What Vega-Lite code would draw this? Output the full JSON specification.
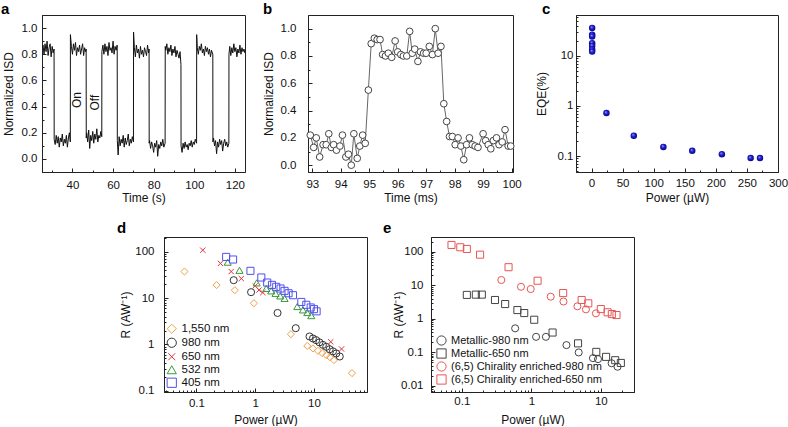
{
  "$schema": "https://vega.github.io/schema/vega-lite/v6.json",
  "background": "white",
  "padding": {"left": 0, "top": 1, "right": 0, "bottom": 0},
  "spacing": 16,
  "resolve": {"scale": {"color": "independent", "shape": "independent"}, "legend": {"color": "independent", "shape": "independent"}},
  "config": {
    "font": "Liberation Sans",
    "view": {"stroke": "#222", "strokeWidth": 1},
    "axis": {"grid": false, "domainColor": "#222", "tickColor": "#222", "labelColor": "#111", "titleColor": "#111", "labelFontSize": 11.5, "titleFontSize": 12, "titleFontWeight": "normal", "tickSize": -4, "labelPadding": 3, "titlePadding": 3, "labelFlush": false, "labelOverlap": false},
    "title": {"fontSize": 15, "fontWeight": "bold", "anchor": "start", "frame": "group", "offset": 0, "color": "#000"},
    "legend": {"title": null, "orient": "bottom-left", "offset": 4, "padding": 0, "labelFontSize": 11.5, "labelColor": "#111", "symbolSize": 85, "symbolStrokeWidth": 1, "rowPadding": 0, "labelOffset": 4}
  },
  "vconcat": [
    {
      "bounds": "flush",
      "spacing": 63,
      "resolve": {"scale": {"color": "independent", "shape": "independent"}},
      "hconcat": [
            {
              "width": 203, "height": 157,
              "title": {"text": "a", "dx": -41, "dy": 6},
              "resolve": {"axis": {"x": "independent", "y": "independent"}},
              "layer": [
                {
                  "data": {"values": [
{"t":25.3,"v":0.85},{"t":25.5,"v":0.87},{"t":26,"v":0.80},{"t":26.5,"v":0.88},{"t":27,"v":0.82},{"t":27.5,"v":0.90},{"t":28,"v":0.79},{"t":28.5,"v":0.85},{"t":29,"v":0.88},{"t":29.5,"v":0.78},{"t":30,"v":0.86},{"t":30.5,"v":0.81},{"t":30.95,"v":0.84},
{"t":31.0,"v":0.15},{"t":31.5,"v":0.11},{"t":32,"v":0.18},{"t":32.5,"v":0.12},{"t":33,"v":0.17},{"t":33.5,"v":0.09},{"t":34,"v":0.16},{"t":34.5,"v":0.13},{"t":35,"v":0.19},{"t":35.5,"v":0.10},{"t":36,"v":0.15},{"t":36.5,"v":0.12},{"t":37,"v":0.18},{"t":37.5,"v":0.09},{"t":38,"v":0.16},{"t":38.5,"v":0.20},{"t":38.95,"v":0.13},
{"t":39.0,"v":0.95},{"t":39.5,"v":0.86},{"t":40,"v":0.80},{"t":40.5,"v":0.88},{"t":41,"v":0.83},{"t":41.5,"v":0.89},{"t":42,"v":0.79},{"t":42.5,"v":0.85},{"t":43,"v":0.82},{"t":43.5,"v":0.87},{"t":44,"v":0.80},{"t":44.5,"v":0.84},{"t":45,"v":0.88},{"t":45.5,"v":0.79},{"t":46,"v":0.85},{"t":46.5,"v":0.82},{"t":46.75,"v":0.84},
{"t":46.8,"v":0.16},{"t":47,"v":0.20},{"t":47.5,"v":0.13},{"t":48,"v":0.22},{"t":48.5,"v":0.08},{"t":49,"v":0.18},{"t":49.5,"v":0.14},{"t":50,"v":0.21},{"t":50.5,"v":0.12},{"t":51,"v":0.19},{"t":51.5,"v":0.15},{"t":52,"v":0.23},{"t":52.5,"v":0.13},{"t":53,"v":0.18},{"t":53.5,"v":0.16},{"t":54,"v":0.21},{"t":54.45,"v":0.17},
{"t":54.5,"v":0.82},{"t":55,"v":0.87},{"t":55.5,"v":0.80},{"t":56,"v":0.88},{"t":56.5,"v":0.82},{"t":57,"v":0.86},{"t":57.5,"v":0.79},{"t":58,"v":0.89},{"t":58.5,"v":0.83},{"t":59,"v":0.85},{"t":59.5,"v":0.81},{"t":60,"v":0.90},{"t":60.5,"v":0.80},{"t":61,"v":0.86},{"t":61.5,"v":0.83},{"t":62,"v":0.87},{"t":62.05,"v":0.84},
{"t":62.1,"v":0.14},{"t":62.5,"v":0.03},{"t":63,"v":0.17},{"t":63.5,"v":0.10},{"t":64,"v":0.15},{"t":64.5,"v":0.12},{"t":65,"v":0.18},{"t":65.5,"v":0.09},{"t":66,"v":0.16},{"t":66.5,"v":0.11},{"t":67,"v":0.14},{"t":67.5,"v":0.19},{"t":68,"v":0.10},{"t":68.5,"v":0.15},{"t":69,"v":0.12},{"t":69.5,"v":0.17},{"t":70.05,"v":0.13},
{"t":70.1,"v":0.97},{"t":70.5,"v":0.85},{"t":71,"v":0.78},{"t":71.5,"v":0.87},{"t":72,"v":0.81},{"t":72.5,"v":0.84},{"t":73,"v":0.77},{"t":73.5,"v":0.86},{"t":74,"v":0.80},{"t":74.5,"v":0.83},{"t":75,"v":0.78},{"t":75.5,"v":0.85},{"t":76,"v":0.82},{"t":76.5,"v":0.79},{"t":77,"v":0.87},{"t":77.5,"v":0.81},{"t":77.75,"v":0.84},
{"t":77.8,"v":0.12},{"t":78,"v":0.14},{"t":78.5,"v":0.08},{"t":79,"v":0.13},{"t":79.5,"v":0.10},{"t":80,"v":0.05},{"t":80.5,"v":0.12},{"t":81,"v":0.09},{"t":81.5,"v":0.14},{"t":82,"v":0.02},{"t":82.5,"v":0.11},{"t":83,"v":0.08},{"t":83.5,"v":0.13},{"t":84,"v":0.10},{"t":84.5,"v":0.15},{"t":85,"v":0.09},{"t":85.65,"v":0.12},
{"t":85.7,"v":0.86},{"t":86,"v":0.83},{"t":86.5,"v":0.88},{"t":87,"v":0.80},{"t":87.5,"v":0.85},{"t":88,"v":0.82},{"t":88.5,"v":0.87},{"t":89,"v":0.79},{"t":89.5,"v":0.84},{"t":90,"v":0.81},{"t":90.5,"v":0.86},{"t":91,"v":0.78},{"t":91.5,"v":0.83},{"t":92,"v":0.80},{"t":92.5,"v":0.77},{"t":93,"v":0.82},{"t":93.45,"v":0.72},
{"t":93.5,"v":0.10},{"t":94,"v":0.05},{"t":94.5,"v":0.12},{"t":95,"v":0.08},{"t":95.5,"v":0.13},{"t":96,"v":0.09},{"t":96.5,"v":0.11},{"t":97,"v":0.07},{"t":97.5,"v":0.12},{"t":98,"v":0.10},{"t":98.5,"v":0.14},{"t":99,"v":0.09},{"t":99.5,"v":0.13},{"t":100,"v":0.11},{"t":100.5,"v":0.15},{"t":101.15,"v":0.12},
{"t":101.2,"v":0.95},{"t":101.5,"v":0.85},{"t":102,"v":0.80},{"t":102.5,"v":0.86},{"t":103,"v":0.83},{"t":103.5,"v":0.88},{"t":104,"v":0.81},{"t":104.5,"v":0.84},{"t":105,"v":0.79},{"t":105.5,"v":0.86},{"t":106,"v":0.82},{"t":106.5,"v":0.85},{"t":107,"v":0.80},{"t":107.5,"v":0.84},{"t":108,"v":0.78},{"t":108.5,"v":0.83},{"t":109.15,"v":0.80},
{"t":109.2,"v":0.13},{"t":109.5,"v":0.16},{"t":110,"v":0.10},{"t":110.5,"v":0.14},{"t":111,"v":0.04},{"t":111.5,"v":0.13},{"t":112,"v":0.09},{"t":112.5,"v":0.15},{"t":113,"v":0.11},{"t":113.5,"v":0.14},{"t":114,"v":0.06},{"t":114.5,"v":0.12},{"t":115,"v":0.15},{"t":115.5,"v":0.10},{"t":116,"v":0.13},{"t":116.5,"v":0.09},{"t":117.05,"v":0.12},
{"t":117.1,"v":0.80},{"t":117.5,"v":0.86},{"t":118,"v":0.79},{"t":118.5,"v":0.85},{"t":119,"v":0.81},{"t":119.5,"v":0.88},{"t":120,"v":0.82},{"t":120.5,"v":0.85},{"t":121,"v":0.78},{"t":121.5,"v":0.84},{"t":122,"v":0.81},{"t":122.5,"v":0.87},{"t":123,"v":0.80},{"t":123.5,"v":0.85},{"t":124,"v":0.82},{"t":124.5,"v":0.84},{"t":124.9,"v":0.81}
                  ]},
                  "mark": {"type": "line", "color": "#111", "strokeWidth": 1, "clip": true},
                  "encoding": {
                    "x": {"field": "t", "type": "quantitative", "scale": {"domain": [25, 125], "nice": false}, "axis": {"values": [40, 60, 80, 100, 120], "title": "Time (s)", "labelOverlap": false, "labelPadding": 11, "titlePadding": 2}},
                    "y": {"field": "v", "type": "quantitative", "scale": {"domain": [-0.1, 1.1], "nice": false}, "axis": {"values": [0, 0.2, 0.4, 0.6, 0.8, 1.0], "format": ".1f", "title": "Normalized ISD", "labelOverlap": false, "labelPadding": 9, "titlePadding": 6}}
                  }
                },
                {
                  "data": {"values": [{"t": 42.0, "v": 0.45, "s": "On"}, {"t": 51.0, "v": 0.43, "s": "Off"}]},
                  "mark": {"type": "text", "angle": 270, "fontSize": 12, "color": "#111"},
                  "encoding": {
                    "x": {"field": "t", "type": "quantitative", "axis": {"orient": "bottom", "values": [30, 50, 70, 90, 110], "labels": false, "title": null, "domain": false, "tickSize": -2}},
                    "y": {"field": "v", "type": "quantitative", "axis": {"orient": "left", "values": [-0.1, 0.1, 0.3, 0.5, 0.7, 0.9, 1.1], "labels": false, "title": null, "domain": false, "tickSize": -2}},
                    "text": {"field": "s"}
                  }
                }
              ]
            },
            {
              "width": 205, "height": 157,
              "title": {"text": "b", "dx": -45, "dy": 6},
              "resolve": {"axis": {"x": "independent", "y": "independent"}},
              "data": {"values": [
{"t":92.93,"v":0.22},{"t":93.05,"v":0.13},{"t":93.14,"v":0.20},{"t":93.26,"v":0.06},{"t":93.38,"v":0.15},{"t":93.49,"v":0.15},{"t":93.58,"v":0.23},{"t":93.67,"v":0.13},{"t":93.75,"v":0.15},{"t":93.85,"v":0.11},{"t":93.97,"v":0.14},{"t":94.06,"v":0.22},{"t":94.18,"v":0.06},{"t":94.27,"v":0.08},{"t":94.37,"v":0.00},{"t":94.46,"v":0.23},{"t":94.58,"v":0.05},{"t":94.67,"v":0.14},{"t":94.77,"v":0.22},{"t":94.86,"v":0.16},{"t":94.97,"v":0.55},{"t":95.07,"v":0.89},{"t":95.18,"v":0.93},{"t":95.28,"v":0.92},{"t":95.38,"v":0.92},{"t":95.47,"v":0.81},{"t":95.57,"v":0.80},{"t":95.67,"v":0.82},{"t":95.79,"v":0.79},{"t":95.91,"v":0.91},{"t":96.0,"v":0.83},{"t":96.11,"v":0.81},{"t":96.2,"v":0.80},{"t":96.32,"v":0.80},{"t":96.42,"v":0.98},{"t":96.51,"v":0.82},{"t":96.6,"v":0.85},{"t":96.71,"v":0.76},{"t":96.8,"v":0.83},{"t":96.91,"v":0.82},{"t":97.0,"v":0.82},{"t":97.11,"v":0.87},{"t":97.22,"v":0.81},{"t":97.32,"v":1.0},{"t":97.42,"v":0.82},{"t":97.52,"v":0.87},{"t":97.62,"v":0.45},{"t":97.72,"v":0.32},{"t":97.82,"v":0.21},{"t":97.92,"v":0.21},{"t":98.02,"v":0.15},{"t":98.12,"v":0.20},{"t":98.22,"v":0.14},{"t":98.32,"v":0.04},{"t":98.42,"v":0.15},{"t":98.52,"v":0.20},{"t":98.62,"v":0.15},{"t":98.72,"v":0.14},{"t":98.82,"v":0.13},{"t":99.0,"v":0.23},{"t":99.09,"v":0.18},{"t":99.18,"v":0.15},{"t":99.27,"v":0.12},{"t":99.36,"v":0.18},{"t":99.47,"v":0.20},{"t":99.56,"v":0.15},{"t":99.67,"v":0.17},{"t":99.77,"v":0.26},{"t":99.88,"v":0.14},{"t":99.97,"v":0.14}
              ]},
              "layer": [
                {
                  "mark": {"type": "line", "color": "#555", "strokeWidth": 0.9},
                  "encoding": {
                    "x": {"field": "t", "type": "quantitative", "scale": {"domain": [92.85, 100.05], "nice": false}, "axis": {"values": [93, 94, 95, 96, 97, 98, 99, 100], "title": "Time (ms)", "labelPadding": 10, "titlePadding": 3}},
                    "y": {"field": "v", "type": "quantitative", "scale": {"domain": [-0.05, 1.1], "nice": false}, "axis": {"values": [0, 0.2, 0.4, 0.6, 0.8, 1.0], "format": ".1f", "title": "Normalized ISD", "labelPadding": 16, "titlePadding": 5}}
                  }
                },
                {
                  "mark": {"type": "point", "shape": "circle", "filled": true, "fill": "white", "stroke": "#444", "strokeWidth": 1, "size": 45, "opacity": 1},
                  "encoding": {
                    "x": {"field": "t", "type": "quantitative", "axis": {"orient": "bottom", "values": [93.5, 94.5, 95.5, 96.5, 97.5, 98.5, 99.5], "labels": false, "title": null, "domain": false, "tickSize": -2}},
                    "y": {"field": "v", "type": "quantitative", "axis": {"orient": "left", "values": [0.1, 0.3, 0.5, 0.7, 0.9], "labels": false, "title": null, "domain": false, "tickSize": -2}}
                  }
                }
              ]
            },
        {
          "width": 202, "height": 157,
          "title": {"text": "c", "dx": -34, "dy": 6},
          "resolve": {"axis": {"x": "independent", "y": "independent"}},
          "data": {"values": [
            {"p": 1, "e": 35.8}, {"p": 1, "e": 26.3}, {"p": 1, "e": 24.3}, {"p": 1, "e": 17.8}, {"p": 1, "e": 15.7}, {"p": 1, "e": 13.4}, {"p": 1, "e": 12.1},
            {"p": 24, "e": 0.72}, {"p": 68, "e": 0.254}, {"p": 115.6, "e": 0.152}, {"p": 162, "e": 0.127}, {"p": 209.7, "e": 0.109}, {"p": 256, "e": 0.091}, {"p": 271, "e": 0.091}
          ]},
          "layer": [
            {
              "mark": {"type": "point", "shape": "circle", "filled": true, "size": 42, "opacity": 1,
                "fill": {"gradient": "radial", "x1": 0.38, "y1": 0.32, "r1": 0, "x2": 0.5, "y2": 0.5, "r2": 0.55,
                  "stops": [{"offset": 0, "color": "#d0d0ff"}, {"offset": 0.35, "color": "#2a2ae6"}, {"offset": 1, "color": "#00007a"}]}},
              "encoding": {
                "x": {"field": "p", "type": "quantitative", "scale": {"domain": [-25, 300], "nice": false}, "axis": {"values": [0, 50, 100, 150, 200, 250, 300], "title": "Power (µW)", "labelPadding": 9, "titlePadding": 4}},
                "y": {"field": "e", "type": "quantitative", "scale": {"type": "log", "domain": [0.048, 65], "nice": false}, "axis": {"values": [0.1, 1, 10], "format": "~g", "title": "EQE(%)", "labelPadding": 7, "titlePadding": 9}}
              }
            },
            {
              "mark": {"type": "point", "opacity": 0},
              "encoding": {
                "x": {"field": "p", "type": "quantitative", "axis": {"orient": "bottom", "values": [25, 75, 125, 175, 225, 275], "labels": false, "title": null, "domain": false, "tickSize": -2}},
                "y": {"field": "e", "type": "quantitative", "axis": {"orient": "left", "values": [0.05, 0.06, 0.07, 0.08, 0.09, 0.2, 0.3, 0.4, 0.5, 0.6, 0.7, 0.8, 0.9, 2, 3, 4, 5, 6, 7, 8, 9, 20, 30, 40, 50, 60], "labels": false, "title": null, "domain": false, "tickSize": -2}}
              }
            }
          ]
        }
      ]
    },
    {
      "bounds": "flush",
      "spacing": 64,
      "resolve": {"scale": {"color": "independent", "shape": "independent"}},
      "hconcat": [
        {
          "width": 58, "height": 155,
          "data": {"values": [{}]},
          "mark": {"type": "point", "opacity": 0},
          "view": {"stroke": "#ffffff"}
        },
        {
          "width": 203, "height": 155,
          "title": {"text": "d", "dx": -47, "dy": 3},
          "resolve": {"axis": {"x": "independent", "y": "independent"}},
          "data": {"values": [
            {"p":0.0625,"r":37.7,"s":"1,550 nm"},{"p":0.22,"r":19.2,"s":"1,550 nm"},{"p":0.45,"r":14.9,"s":"1,550 nm"},{"p":0.95,"r":7.8,"s":"1,550 nm"},{"p":4.05,"r":1.67,"s":"1,550 nm"},{"p":7.7,"r":0.93,"s":"1,550 nm"},{"p":9.6,"r":0.82,"s":"1,550 nm"},{"p":11.7,"r":0.73,"s":"1,550 nm"},{"p":13.8,"r":0.65,"s":"1,550 nm"},{"p":16.2,"r":0.59,"s":"1,550 nm"},{"p":18.7,"r":0.53,"s":"1,550 nm"},{"p":21.9,"r":0.46,"s":"1,550 nm"},{"p":44.4,"r":0.24,"s":"1,550 nm"},
            {"p":0.43,"r":24.5,"s":"980 nm"},{"p":0.85,"r":13.5,"s":"980 nm"},{"p":2.4,"r":4.8,"s":"980 nm"},{"p":4.9,"r":2.25,"s":"980 nm"},{"p":8.4,"r":1.49,"s":"980 nm"},{"p":9.6,"r":1.35,"s":"980 nm"},{"p":10.9,"r":1.24,"s":"980 nm"},{"p":12.4,"r":1.11,"s":"980 nm"},{"p":14.2,"r":0.98,"s":"980 nm"},{"p":16.2,"r":0.89,"s":"980 nm"},{"p":18.5,"r":0.79,"s":"980 nm"},{"p":21.1,"r":0.71,"s":"980 nm"},{"p":24.0,"r":0.64,"s":"980 nm"},{"p":27.5,"r":0.55,"s":"980 nm"},
            {"p":0.128,"r":109,"s":"650 nm"},{"p":0.256,"r":56.5,"s":"650 nm"},{"p":0.39,"r":37.7,"s":"650 nm"},{"p":0.58,"r":26.6,"s":"650 nm"},{"p":1.0,"r":18.4,"s":"650 nm"},{"p":1.16,"r":15.0,"s":"650 nm"},{"p":1.35,"r":13.2,"s":"650 nm"},{"p":19.3,"r":1.14,"s":"650 nm"},{"p":29.5,"r":0.8,"s":"650 nm"},
            {"p":0.34,"r":60,"s":"532 nm"},{"p":0.54,"r":40,"s":"532 nm"},{"p":1.06,"r":21.4,"s":"532 nm"},{"p":1.54,"r":16.2,"s":"532 nm"},{"p":1.87,"r":14.4,"s":"532 nm"},{"p":2.22,"r":12.7,"s":"532 nm"},{"p":2.66,"r":11.2,"s":"532 nm"},{"p":3.16,"r":9.9,"s":"532 nm"},{"p":5.2,"r":6.6,"s":"532 nm"},{"p":6.5,"r":5.6,"s":"532 nm"},{"p":7.7,"r":4.9,"s":"532 nm"},{"p":9.0,"r":4.2,"s":"532 nm"},
            {"p":0.32,"r":78,"s":"405 nm"},{"p":0.42,"r":68.5,"s":"405 nm"},{"p":0.83,"r":39,"s":"405 nm"},{"p":1.27,"r":28,"s":"405 nm"},{"p":1.6,"r":21.8,"s":"405 nm"},{"p":1.93,"r":19.4,"s":"405 nm"},{"p":2.28,"r":17.6,"s":"405 nm"},{"p":2.7,"r":16.2,"s":"405 nm"},{"p":3.16,"r":14.4,"s":"405 nm"},{"p":3.7,"r":12.8,"s":"405 nm"},{"p":4.4,"r":11.6,"s":"405 nm"},{"p":6.1,"r":8.3,"s":"405 nm"},{"p":7.4,"r":7.2,"s":"405 nm"},{"p":8.8,"r":6.3,"s":"405 nm"},{"p":10.0,"r":5.8,"s":"405 nm"},{"p":11.1,"r":5.2,"s":"405 nm"}
          ]},
          "layer": [
            {
              "mark": {"type": "point", "filled": false, "strokeWidth": 1, "size": 50, "opacity": 1},
              "encoding": {
                "x": {"field": "p", "type": "quantitative", "scale": {"type": "log", "domain": [0.028, 80], "nice": false}, "axis": {"values": [0.1, 1, 10], "format": "~g", "title": "Power (µW)", "labelPadding": 9, "titlePadding": 6}},
                "y": {"field": "r", "type": "quantitative", "scale": {"type": "log", "domain": [0.094, 210], "nice": false}, "axis": {"values": [0.1, 1, 10, 100], "format": "~g", "title": "R (AW⁻¹)", "labelPadding": 14, "titlePadding": 2}},
                "color": {"field": "s", "type": "nominal", "scale": {"domain": ["1,550 nm", "980 nm", "650 nm", "532 nm", "405 nm"], "range": ["#f0a04a", "#333333", "#e8323c", "#3a9a3a", "#5050ee"]}, "legend": {"offset": 2}},
                "shape": {"field": "s", "type": "nominal", "scale": {"domain": ["1,550 nm", "980 nm", "650 nm", "532 nm", "405 nm"], "range": ["diamond", "circle", "M-0.75,-0.75L0.75,0.75M-0.75,0.75L0.75,-0.75", "triangle-up", "square"]}, "legend": {"offset": 2}}
              }
            },
            {
              "mark": {"type": "point", "opacity": 0},
              "encoding": {
                "x": {"field": "p", "type": "quantitative", "axis": {"orient": "bottom", "values": [0.03, 0.04, 0.05, 0.06, 0.07, 0.08, 0.09, 0.2, 0.3, 0.4, 0.5, 0.6, 0.7, 0.8, 0.9, 2, 3, 4, 5, 6, 7, 8, 9, 20, 30, 40, 50, 60, 70], "labels": false, "title": null, "domain": false, "tickSize": -2}},
                "y": {"field": "r", "type": "quantitative", "axis": {"orient": "left", "values": [0.2, 0.3, 0.4, 0.5, 0.6, 0.7, 0.8, 0.9, 2, 3, 4, 5, 6, 7, 8, 9, 20, 30, 40, 50, 60, 70, 80, 90, 200], "labels": false, "title": null, "domain": false, "tickSize": -2}}
              }
            }
          ]
        },
        {
          "width": 203, "height": 155,
          "title": {"text": "e", "dx": -48, "dy": 3},
          "resolve": {"axis": {"x": "independent", "y": "independent"}},
          "data": {"values": [
            {"p":0.585,"r":0.52,"s":"Metallic-980 nm"},{"p":1.17,"r":0.29,"s":"Metallic-980 nm"},{"p":1.62,"r":0.29,"s":"Metallic-980 nm"},{"p":3.2,"r":0.164,"s":"Metallic-980 nm"},{"p":4.8,"r":0.099,"s":"Metallic-980 nm"},{"p":7.7,"r":0.067,"s":"Metallic-980 nm"},{"p":9.1,"r":0.0625,"s":"Metallic-980 nm"},{"p":14.3,"r":0.047,"s":"Metallic-980 nm"},{"p":17.4,"r":0.037,"s":"Metallic-980 nm"},
            {"p":0.118,"r":5.2,"s":"Metallic-650 nm"},{"p":0.159,"r":5.3,"s":"Metallic-650 nm"},{"p":0.194,"r":5.3,"s":"Metallic-650 nm"},{"p":0.30,"r":3.66,"s":"Metallic-650 nm"},{"p":0.42,"r":2.77,"s":"Metallic-650 nm"},{"p":0.63,"r":1.83,"s":"Metallic-650 nm"},{"p":0.79,"r":1.49,"s":"Metallic-650 nm"},{"p":1.1,"r":0.94,"s":"Metallic-650 nm"},{"p":2.02,"r":0.39,"s":"Metallic-650 nm"},{"p":4.7,"r":0.185,"s":"Metallic-650 nm"},{"p":8.6,"r":0.103,"s":"Metallic-650 nm"},{"p":11.9,"r":0.073,"s":"Metallic-650 nm"},{"p":16.1,"r":0.058,"s":"Metallic-650 nm"},{"p":19.4,"r":0.048,"s":"Metallic-650 nm"},
            {"p":0.37,"r":14.5,"s":"(6,5) Chirality enriched-980 nm"},{"p":0.71,"r":9.1,"s":"(6,5) Chirality enriched-980 nm"},{"p":0.98,"r":7.8,"s":"(6,5) Chirality enriched-980 nm"},{"p":1.9,"r":4.6,"s":"(6,5) Chirality enriched-980 nm"},{"p":2.9,"r":3.3,"s":"(6,5) Chirality enriched-980 nm"},{"p":4.6,"r":2.37,"s":"(6,5) Chirality enriched-980 nm"},{"p":6.1,"r":1.92,"s":"(6,5) Chirality enriched-980 nm"},{"p":8.5,"r":1.46,"s":"(6,5) Chirality enriched-980 nm"},
            {"p":0.071,"r":162,"s":"(6,5) Chirality enriched-650 nm"},{"p":0.095,"r":138,"s":"(6,5) Chirality enriched-650 nm"},{"p":0.118,"r":123,"s":"(6,5) Chirality enriched-650 nm"},{"p":0.183,"r":83,"s":"(6,5) Chirality enriched-650 nm"},{"p":0.47,"r":35,"s":"(6,5) Chirality enriched-650 nm"},{"p":1.23,"r":13.8,"s":"(6,5) Chirality enriched-650 nm"},{"p":2.87,"r":5.9,"s":"(6,5) Chirality enriched-650 nm"},{"p":5.3,"r":3.66,"s":"(6,5) Chirality enriched-650 nm"},{"p":6.6,"r":2.91,"s":"(6,5) Chirality enriched-650 nm"},{"p":10,"r":1.96,"s":"(6,5) Chirality enriched-650 nm"},{"p":12.5,"r":1.57,"s":"(6,5) Chirality enriched-650 nm"},{"p":14.4,"r":1.39,"s":"(6,5) Chirality enriched-650 nm"},{"p":16.8,"r":1.3,"s":"(6,5) Chirality enriched-650 nm"}
          ]},
          "layer": [
            {
              "mark": {"type": "point", "filled": false, "strokeWidth": 1, "size": 50, "opacity": 1},
              "encoding": {
                "x": {"field": "p", "type": "quantitative", "scale": {"type": "log", "domain": [0.036, 30], "nice": false}, "axis": {"values": [0.1, 1, 10], "format": "~g", "title": "Power (µW)", "labelPadding": 7, "titlePadding": 8}},
                "y": {"field": "r", "type": "quantitative", "scale": {"type": "log", "domain": [0.0065, 280], "nice": false}, "axis": {"values": [0.01, 0.1, 1, 10, 100], "format": "~g", "title": "R (AW⁻¹)", "labelPadding": 12, "titlePadding": -5}},
                "color": {"field": "s", "type": "nominal", "scale": {"domain": ["Metallic-980 nm", "Metallic-650 nm", "(6,5) Chirality enriched-980 nm", "(6,5) Chirality enriched-650 nm"], "range": ["#444444", "#444444", "#e85555", "#e85555"]}, "legend": {"labelFontSize": 11, "rowPadding": -2, "offset": 5}},
                "shape": {"field": "s", "type": "nominal", "scale": {"domain": ["Metallic-980 nm", "Metallic-650 nm", "(6,5) Chirality enriched-980 nm", "(6,5) Chirality enriched-650 nm"], "range": ["circle", "square", "circle", "square"]}, "legend": {"labelFontSize": 11, "rowPadding": -2, "offset": 5}}
              }
            },
            {
              "mark": {"type": "point", "opacity": 0},
              "encoding": {
                "x": {"field": "p", "type": "quantitative", "axis": {"orient": "bottom", "values": [0.04, 0.05, 0.06, 0.07, 0.08, 0.09, 0.2, 0.3, 0.4, 0.5, 0.6, 0.7, 0.8, 0.9, 2, 3, 4, 5, 6, 7, 8, 9, 20, 30], "labels": false, "title": null, "domain": false, "tickSize": -2}},
                "y": {"field": "r", "type": "quantitative", "axis": {"orient": "left", "values": [0.007, 0.008, 0.009, 0.02, 0.03, 0.04, 0.05, 0.06, 0.07, 0.08, 0.09, 0.2, 0.3, 0.4, 0.5, 0.6, 0.7, 0.8, 0.9, 2, 3, 4, 5, 6, 7, 8, 9, 20, 30, 40, 50, 60, 70, 80, 90, 200], "labels": false, "title": null, "domain": false, "tickSize": -2}}
              }
            }
          ]
        }
      ]
    }
  ]
}
